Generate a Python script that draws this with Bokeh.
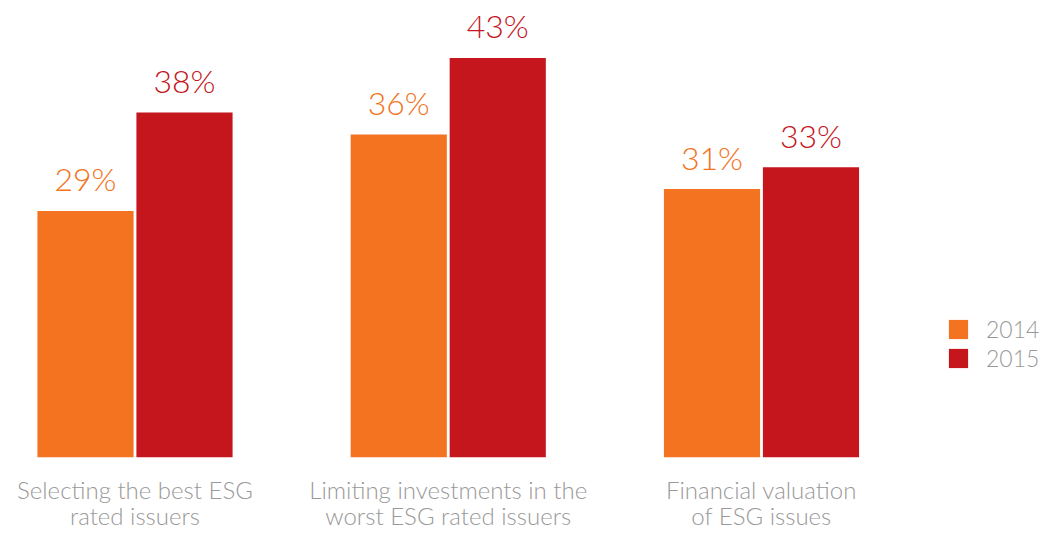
from bokeh.plotting import figure
from bokeh.models import Range1d, FixedTicker, Legend, LegendItem, ColumnDataSource
from bokeh.core.properties import value
from bokeh.embed import file_html
from bokeh.resources import INLINE

categories = ["Selecting the best ESG\nrated issuers",
              "Limiting investments in the\nworst ESG rated issuers",
              "Financial valuation\nof ESG issues"]
years = ["2014", "2015"]
values_2014 = [29, 36, 31]
values_2015 = [38, 43, 33]

ORANGE = "#F37321"
RED = "#C4161C"
GRAY = "#999999"
FONT = "Lato Light"

idx = list(range(len(categories)))
OFF = 0.158
W = 0.307

p = figure(width=1043, height=533, output_backend="svg", toolbar_location=None,
           x_range=Range1d(-0.4294, 2.9003), y_range=Range1d(6.45, 48.25),
           y_axis_location=None, min_border_left=0, min_border_right=0,
           min_border_top=0, min_border_bottom=74)
p.outline_line_color = None
p.grid.visible = False
p.background_fill_color = "white"

src14 = ColumnDataSource(dict(x=[i - OFF for i in idx], top=values_2014,
                              lab=[f"{v}%" for v in values_2014]))
src15 = ColumnDataSource(dict(x=[i + OFF for i in idx], top=values_2015,
                              lab=[f"{v}%" for v in values_2015]))

r14 = p.vbar(x="x", top="top", bottom=0, width=W, source=src14,
             fill_color=ORANGE, line_color=None)
r15 = p.vbar(x="x", top="top", bottom=0, width=W, source=src15,
             fill_color=RED, line_color=None)

for src, col in ((src14, ORANGE), (src15, RED)):
    p.text(x="x", y="top", text="lab", source=src, y_offset=-32,
           text_align="center", text_baseline="alphabetic",
           text_font=value(FONT), text_font_size="32px", text_color=col)

ax = p.xaxis[0]
ax.ticker = FixedTicker(ticks=idx)
ax.major_label_overrides = {i: c for i, c in zip(idx, categories)}
ax.axis_line_color = None
ax.major_tick_line_color = None
ax.minor_tick_line_color = None
ax.major_tick_out = 0
ax.major_tick_in = 0
ax.major_label_text_font = FONT
ax.major_label_text_font_size = "24px"
ax.major_label_text_line_height = 0.92
ax.major_label_text_color = GRAY
ax.major_label_standoff = 17

legend = Legend(items=[LegendItem(label=years[0], renderers=[r14]),
                       LegendItem(label=years[1], renderers=[r15])],
                location=(946, 85), orientation="vertical",
                glyph_width=24, glyph_height=24, label_height=24,
                label_standoff=16, spacing=1, padding=0, margin=0,
                border_line_color=None, background_fill_alpha=0,
                label_text_font=FONT, label_text_font_size="23px",
                label_text_color=GRAY)
p.add_layout(legend)

open("out.html", "w").write(file_html(p, INLINE))
